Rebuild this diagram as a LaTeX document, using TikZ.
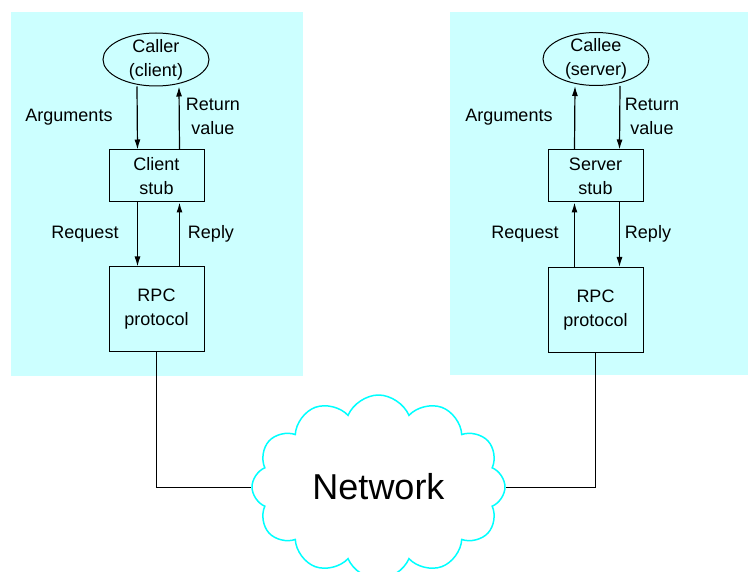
\documentclass[tikz,border=0pt]{standalone}
\usepackage{fontspec}
\setmainfont{Liberation Sans}
\usetikzlibrary{shapes.geometric,shapes.symbols,arrows.meta}
\definecolor{panelcyan}{RGB}{204,255,255}
\definecolor{cloudcyan}{RGB}{0,255,255}
\tikzset{
  lbl/.style={font=\fontsize{18}{24}\selectfont, align=center, inner sep=0pt},
  stubbox/.style={draw, line width=1pt, minimum width=95pt, minimum height=52pt, lbl},
  rpcbox/.style={draw, line width=1pt, minimum width=95pt, minimum height=85pt, lbl},
  proc/.style={ellipse, draw, line width=1pt, minimum width=106pt, minimum height=53pt,
    lbl, inner ysep=-3pt},
  flow/.style={->, line width=1.2pt}
}
\begin{document}
\begin{tikzpicture}[x=1pt, y=-1pt, >={Latex[length=10pt,width=6pt]}]
\useasboundingbox (0,0) rectangle (748,572);

% the two machines
\fill[panelcyan] (11,12) rectangle (303,376);
\fill[panelcyan] (450,12) rectangle (748,375);

% client side
\node[proc] (lcaller) at (156,59.5) {Caller\\(client)};
\node[stubbox] (lstub) at (156.5,176) {Client\\stub};
\node[rpcbox] (lrpc) at (156.5,309.5) {RPC\\protocol};

\draw[flow] ([xshift=-19pt]lcaller.south) -- ([xshift=-19pt]lstub.north);
\draw[flow] ([xshift=23pt]lstub.north) -- ([xshift=23pt]lcaller.south);
\draw[flow] ([xshift=-19pt]lstub.south) -- ([xshift=-19pt]lrpc.north);
\draw[flow] ([xshift=23pt]lrpc.north) -- ([xshift=23pt]lstub.south);

\node[lbl] (largs) at (69,117) {Arguments};
\node[lbl] (lret) at (213,116) {Return\\value};
\node[lbl] (lreq) at (85,234) {Request};
\node[lbl] (lrep) at (211,234) {Reply};

% server side
\node[proc] (rcallee) at (596,59) {Callee\\(server)};
\node[stubbox] (rstub) at (595.5,176) {Server\\stub};
\node[rpcbox] (rrpc) at (595.5,310) {RPC\\protocol};

\draw[flow] ([xshift=-21pt]rstub.north) -- ([xshift=-21pt]rcallee.south);
\draw[flow] ([xshift=24pt]rcallee.south) -- ([xshift=24pt]rstub.north);
\draw[flow] ([xshift=-21pt]rrpc.north) -- ([xshift=-21pt]rstub.south);
\draw[flow] ([xshift=24pt]rstub.south) -- ([xshift=24pt]rrpc.north);

\node[lbl] (rargs) at (509,117) {Arguments};
\node[lbl] (rret) at (652,116) {Return\\value};
\node[lbl] (rreq) at (525,234) {Request};
\node[lbl] (rrep) at (648,234) {Reply};

% network
\node[cloud, cloud ignores aspect, draw=cloudcyan, line width=1.5pt, cloud puffs=12,
  cloud puff arc=135, minimum width=253pt, minimum height=184pt, inner sep=0pt,
  font=\fontsize{36}{40}\selectfont] (net) at (378.5,487) {Network};

\draw[line width=1pt] (lrpc.south) |- (net.west);
\draw[line width=1pt] (rrpc.south) |- (net.east);
\end{tikzpicture}
\end{document}
